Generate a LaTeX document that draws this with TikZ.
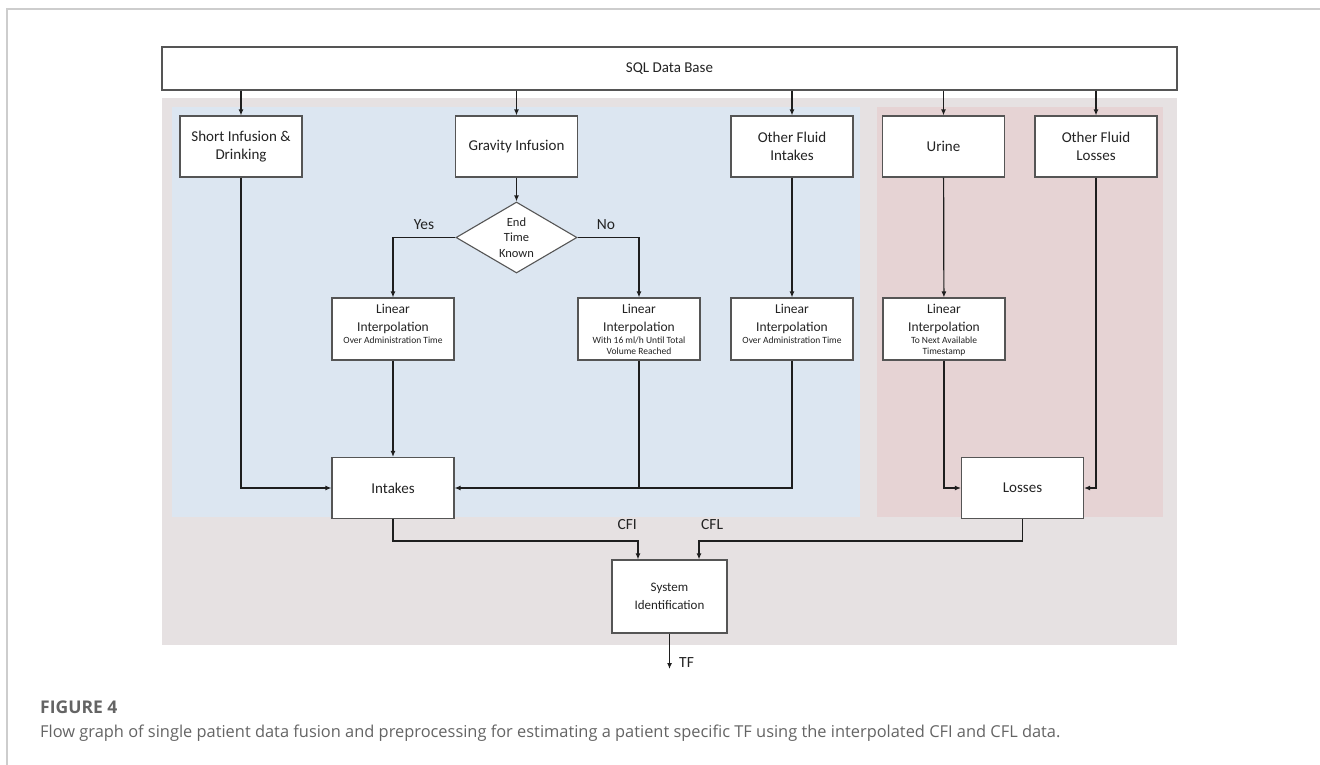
\documentclass[tikz,border=0pt]{standalone}
\usepackage{fontspec}
\setmainfont{Carlito}
\newfontfamily\capfont{Open Sans}
\usetikzlibrary{shapes.geometric,arrows.meta,calc}
\definecolor{bggray}{RGB}{230,225,226}
\definecolor{bgblue}{RGB}{220,230,241}
\definecolor{bgpink}{RGB}{230,211,212}
\definecolor{boxline}{RGB}{85,85,85}
\definecolor{ink}{RGB}{30,30,30}
\definecolor{txt}{RGB}{35,35,35}
\definecolor{framegray}{RGB}{205,205,205}
\definecolor{capgray}{RGB}{100,100,100}
\tikzset{
  box/.style={draw=boxline, line width=1.1pt, fill=white, inner sep=0pt, align=center, text=txt, font=\fontsize{15}{18}\selectfont},
  topbox/.style={box, minimum width=122pt, minimum height=61pt},
  linbx/.style={box, minimum width=122pt, minimum height=62pt},
  conn/.style={draw=ink, line width=1.2pt},
  arr/.style={conn, -{Latex[length=6pt,width=5pt]}},
  lbl/.style={text=txt, font=\fontsize{15.5}{17}\selectfont, inner sep=0pt},
}
\newcommand{\linbox}[1]{\begin{minipage}[c][62pt][t]{120pt}\centering\vspace*{6pt}{\fontsize{13.5}{18.5}\selectfont Linear\par Interpolation\par}{\fontsize{9.5}{11.5}\selectfont #1\par}\end{minipage}}
\begin{document}
\begin{tikzpicture}[x=1pt,y=-1pt]
\useasboundingbox (0,0) rectangle (1320,765);
\draw[framegray, line width=1.5pt] (1320,9) -- (7,9) -- (7,765);
\fill[bggray] (162,98) rectangle (1177,645);
\fill[bgblue] (172,107) rectangle (860,517);
\fill[bgpink] (877,107) rectangle (1163,517);

\node[box, minimum width=1015pt, minimum height=43pt] (sql) at (669.5,68.5) {SQL Data Base};
\node[topbox] (short) at (241,146.5) {Short Infusion \&\\Drinking};
\node[topbox] (grav) at (516.5,146.5) {Gravity Infusion};
\node[topbox] (ofi) at (792,146.5) {Other Fluid\\Intakes};
\node[topbox] (urine) at (943.5,146.5) {Urine};
\node[topbox] (ofl) at (1096,146.5) {Other Fluid\\Losses};

\node[draw=boxline, line width=1.1pt, fill=white, diamond, aspect=1.7, minimum width=121pt, minimum height=71pt, inner sep=0pt, align=center, text=txt, font=\fontsize{12.5}{15.5}\selectfont] (dec) at (516.5,237.5) {End\\Time\\Known};

\node[linbx] (lin1) at (393,329) {\linbox{Over Administration Time}};
\node[linbx] (lin2) at (639,329) {\linbox{With 16 ml/h Until Total\\Volume Reached}};
\node[linbx] (lin3) at (792,329) {\linbox{Over Administration Time}};
\node[linbx] (lin4) at (944,329) {\linbox{To Next Available\\Timestamp}};

\node[topbox] (intakes) at (393,488) {Intakes};
\node[topbox] (losses) at (1022.5,488) {Losses};
\node[box, minimum width=115pt, minimum height=73pt, font=\fontsize{13}{17.5}\selectfont] (sysid) at (669.5,596.5) {System\\Identification};

\foreach \n in {short,grav,ofi,urine,ofl} \draw[arr] (sql.south -| \n.north) -- (\n.north);
\draw[arr] (grav) -- (dec);
\draw[arr] (dec.west) -| (lin1.north);
\draw[arr] (dec.east) -| (lin2.north);
\node[lbl] (yes) at (424,225) {Yes};
\node[lbl] (no) at (606,225) {No};
\draw[arr] (ofi) -- (lin3);
\draw[arr] (urine) -- (lin4);
\draw[arr] (short.south) |- (intakes.west);
\draw[arr] (lin1) -- (intakes);
\draw[arr] (lin3.south) |- (intakes.east);
\draw[conn] (lin2.south) -- (lin2.south |- intakes.east);
\draw[arr] (lin4.south) |- (losses.west);
\draw[arr] (ofl.south) |- (losses.east);

\coordinate (cfi) at (638,541);
\coordinate (cfl) at (699,541);
\draw[arr] (intakes.south) |- (cfi) -- (cfi |- sysid.north);
\draw[arr] (losses.south) |- (cfl) -- (cfl |- sysid.north);
\node[lbl, anchor=east] (cfil) at (637,525) {CFI};
\node[lbl, anchor=west] (cfll) at (701,525) {CFL};
\coordinate (tfend) at (669.5,669);
\draw[arr] (sysid.south) -- (tfend);
\node[lbl, anchor=west] (tf) at (679,663) {TF};

\node[anchor=base west, text=capgray, font=\capfont\bfseries\fontsize{17.5}{20}\selectfont, inner sep=0pt] (fig) at (40,713) {FIGURE 4};
\node[anchor=base west, text=capgray, font=\capfont\fontsize{16.4}{18}\selectfont, inner sep=0pt] (cap) at (40,737) {Flow graph of single patient data fusion and preprocessing for estimating a patient specific TF using the interpolated CFI and CFL data.};
\end{tikzpicture}
\end{document}
